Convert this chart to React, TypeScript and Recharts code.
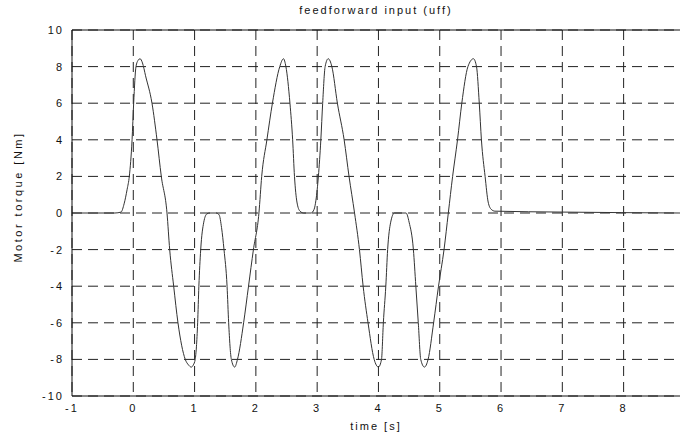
import React from 'react';
import { LineChart, Line, XAxis, YAxis, CartesianGrid, ReferenceLine } from 'recharts';

// time [s] and torque [Nm]
const timeS = [
  -1, -0.3, -0.2, -0.15, -0.1, -0.065, -0.02, 0.006, 0.044, 0.08, 0.11, 0.15, 0.2, 0.305, 0.387, 0.457,
  0.55, 0.594, 0.659, 0.729, 0.848, 0.9, 0.946, 0.98, 1.01, 1.05, 1.07, 1.1, 1.15, 1.2, 1.25, 1.35,
  1.4, 1.44, 1.48, 1.53, 1.556, 1.6, 1.654, 1.7, 1.8, 1.88, 1.96, 2.05, 2.095, 2.18, 2.27, 2.39,
  2.45, 2.49, 2.556, 2.6, 2.63, 2.67, 2.72, 2.78, 2.9, 2.95, 2.98, 3.02, 3.06, 3.09, 3.13, 3.18,
  3.24, 3.33, 3.44, 3.52, 3.61, 3.69, 3.75, 3.83, 3.93, 4.0, 4.05, 4.08, 4.12, 4.15, 4.2, 4.26,
  4.45, 4.5, 4.57, 4.61, 4.65, 4.69, 4.75, 4.81, 4.9, 4.98, 5.07, 5.14, 5.21, 5.29, 5.36, 5.46,
  5.55, 5.6, 5.645, 5.68, 5.74, 5.79, 5.84, 5.9, 7.0, 8.92,
];
const torqueNm = [
  0, 0, 0.05, 0.5, 1.3, 2, 4, 6, 8, 8.35, 8.43, 8.2, 7.5, 6, 4, 2,
  0, -2, -4, -6, -8, -8.3, -8.42, -8.3, -8, -6, -4, -2, -0.5, -0.05, 0, 0,
  -0.1, -0.8, -2, -4, -6, -8, -8.42, -8, -6, -4, -2, 0, 2, 4, 6, 8,
  8.43, 8, 6, 4, 2, 0.6, 0.1, 0, 0, 0.2, 0.7, 2, 4, 6, 8, 8.43,
  8, 6, 4, 2, 0, -2, -4, -6, -8, -8.42, -8, -6, -4, -2, -0.5, 0,
  0, -0.5, -2, -4, -6, -8, -8.42, -8, -6, -4, -2, 0, 2, 4, 6, 8,
  8.43, 8, 6, 4, 2, 0.6, 0.2, 0.1, 0.05, 0,
];

const xTicks = [-1, 0, 1, 2, 3, 4, 5, 6, 7, 8];
const yTicks = [-10, -8, -6, -4, -2, 0, 2, 4, 6, 8, 10];

const data = timeS.map((t, i) => ({ t, uff: torqueNm[i] }));

const font = '"Liberation Sans", Arial, sans-serif';
const tickStyle = { fontSize: 11, fill: '#111', fontFamily: font, letterSpacing: 2 };

export default function App() {
  return (
    <div style={{ position: 'absolute', left: 0, top: 0, width: 680, height: 436, background: '#fff', fontFamily: font }}>
      <div
        style={{
          position: 'absolute', left: 72, width: 608, top: 4, textAlign: 'center',
          fontSize: 11, letterSpacing: 2, color: '#111',
        }}
      >
        feedforward input (uff)
      </div>
      <div
        style={{
          position: 'absolute', left: 18, top: 197, width: 0, height: 0,
        }}
      >
        <div
          style={{
            position: 'absolute', transform: 'translate(-50%, -50%) rotate(-90deg)', whiteSpace: 'nowrap',
            fontSize: 11, letterSpacing: 2.5, color: '#111',
          }}
        >
          Motor torque [Nm]
        </div>
      </div>
      <LineChart width={680} height={436} data={data} margin={{ top: 30, right: 0, bottom: 0, left: 0 }}>
        <CartesianGrid
          stroke="#222"
          strokeDasharray="10 6"
          horizontalValues={yTicks}
          verticalValues={xTicks}
        />
        <XAxis
          dataKey="t"
          type="number"
          domain={[-1, 8.92]}
          ticks={xTicks}
          allowDataOverflow
          height={40}
          tickLine={false}
          axisLine={{ stroke: '#111' }}
          tick={tickStyle}
          label={{ value: 'time [s]', position: 'insideBottom', offset: 6, fontSize: 11, letterSpacing: 2, fill: '#111', fontFamily: font }}
        />
        <YAxis
          type="number"
          domain={[-10, 10]}
          ticks={yTicks}
          width={72}
          tickLine={false}
          axisLine={{ stroke: '#111' }}
          tick={tickStyle}
        />
        <ReferenceLine y={10} stroke="#111" />
        <Line
          dataKey="uff"
          type="monotone"
          stroke="#333"
          strokeWidth={1}
          dot={false}
          isAnimationActive={false}
        />
      </LineChart>
    </div>
  );
}
